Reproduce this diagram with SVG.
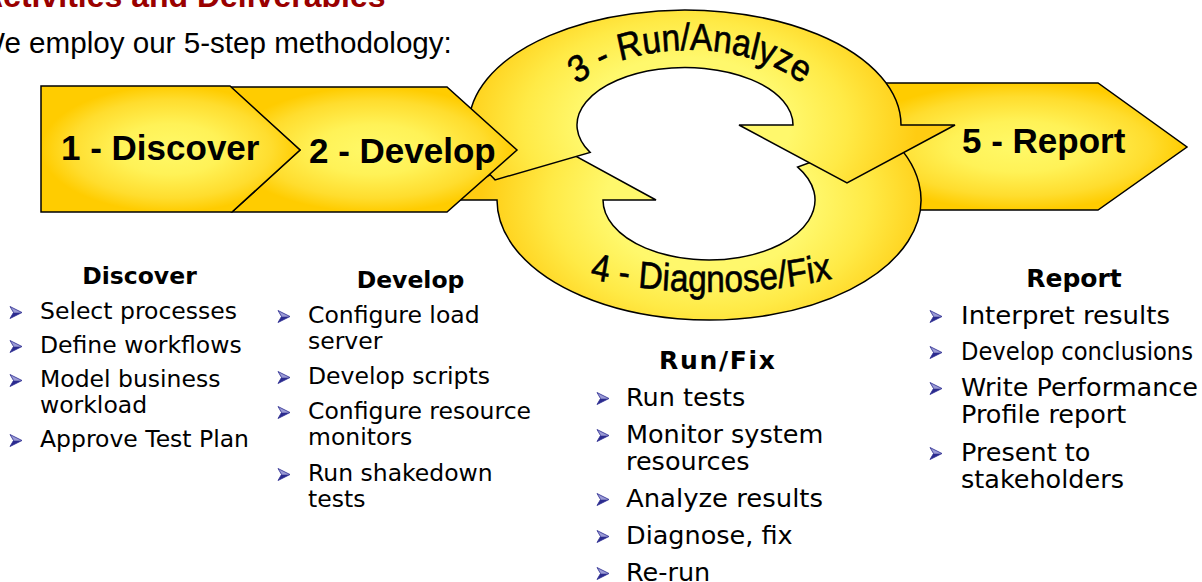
<svg xmlns="http://www.w3.org/2000/svg" xmlns:xlink="http://www.w3.org/1999/xlink" width="1202" height="582" viewBox="0 0 1202 582">
  <style>
    .shape { stroke: #000; stroke-width: 1.5; stroke-linejoin: miter; }
    .chev-text { font-family: "Liberation Sans", Arial, sans-serif; font-weight: bold; font-size: 35px; fill: #000; }
    .ring-text { font-family: "Liberation Sans", Arial, sans-serif; font-weight: normal; font-size: 38px; fill: #000; stroke: #000; stroke-width: 0.6; }
    .title { font-family: "Liberation Sans", Arial, sans-serif; font-weight: bold; font-size: 32px; fill: #990000; }
    .sub { font-family: "Liberation Sans", Arial, sans-serif; font-size: 29.6px; fill: #000; }
    .head { font-family: "DejaVu Sans", Verdana, sans-serif; font-weight: bold; font-size: 23.5px; fill: #000; text-anchor: middle; }
    .head2 { font-family: "DejaVu Sans", Verdana, sans-serif; font-weight: bold; font-size: 25px; fill: #000; text-anchor: middle; }
    .item { font-family: "DejaVu Sans", Verdana, sans-serif; font-size: 23.5px; fill: #000; }
    .item2 { font-family: "DejaVu Sans", Verdana, sans-serif; font-size: 25.5px; fill: #000; }
    .cond { font-family: "DejaVu Sans Condensed", "DejaVu Sans", Tahoma, sans-serif; font-size: 25.5px; fill: #000; }
  </style>
  <defs>
    <radialGradient id="gChev" cx="0.5" cy="0.5" r="0.5">
      <stop offset="0" stop-color="#FFF968"/>
      <stop offset="0.4" stop-color="#FFF257"/>
      <stop offset="0.78" stop-color="#FFDD2E"/>
      <stop offset="1" stop-color="#FFCC00"/>
    </radialGradient>
    <radialGradient id="gTop" gradientUnits="userSpaceOnUse" cx="0" cy="0" r="1" gradientTransform="translate(685 125) scale(232 150)">
      <stop offset="0.45" stop-color="#FFF86C"/>
      <stop offset="0.7" stop-color="#FFEA46"/>
      <stop offset="1" stop-color="#FFCC12"/>
    </radialGradient>
    <radialGradient id="gBot" gradientUnits="userSpaceOnUse" cx="0" cy="0" r="1" gradientTransform="translate(709 200) scale(228 160)">
      <stop offset="0.45" stop-color="#FFF86C"/>
      <stop offset="0.7" stop-color="#FFEA46"/>
      <stop offset="1" stop-color="#FFCC12"/>
    </radialGradient>
    <path id="arcTop" d="M 530.9 135 A 159.1 85 0 0 1 849.1 135" fill="none"/>
    <path id="arcBot" d="M 438.3 195 A 272.7 97 0 0 0 983.7 195" fill="none"/>
    <g id="bul">
      <polygon points="0,0 12,6 3.5,6" fill="#9A9AD6"/>
      <polygon points="3.5,6 12,6 0,12" fill="#2B2B8F"/>
      <polygon points="0,0 12,6 0,12 3.5,6" fill="none" stroke="#2B2B8F" stroke-width="0.8" stroke-linejoin="miter"/>
    </g>
  </defs>

  <rect x="0" y="0" width="1202" height="582" fill="#FFFFFF"/>

  <g id="title">
    <text class="title" x="-20" y="7">Activities and Deliverables</text>
    <text class="sub" x="-23" y="53">We employ our 5-step methodology:</text>
  </g>

  <g id="node-report">
    <polygon class="shape" points="850,83 1098,83 1187,147 1098,210 850,210" fill="url(#gChev)"/>
    <text class="chev-text" x="962" y="153">5 - Report</text>
  </g>

  <g id="node-diagnose-fix">
    <path class="shape" fill="url(#gBot)" d="M 886.4 134.3 A 212 120 0 1 1 497 200 L 444 200 L 550 142 L 656 200 L 603 200 A 106 60 0 1 0 797.7 167.1 Z"/>
    <text class="ring-text" text-anchor="middle" transform="translate(711 0) scale(0.88 1) translate(-711 0)"><textPath xlink:href="#arcBot" href="#arcBot" startOffset="50%">4 - Diagnose/Fix</textPath></text>
  </g>

  <g id="node-run-analyze">
    <path class="shape" fill="url(#gTop)" d="M 495.1 179.9 A 216 115 0 1 1 901 125 L 955 125 L 847 183 L 739 125 L 793 125 A 108 57.5 0 1 0 590.1 152.4 Z"/>
    <text class="ring-text" text-anchor="middle" transform="translate(690 0) scale(0.88 1) translate(-690 0)"><textPath xlink:href="#arcTop" href="#arcTop" startOffset="50%">3 - Run/Analyze</textPath></text>
  </g>

  <g id="node-develop">
    <polygon class="shape" points="230,87 447,87 517,150 447,212 232,212 300,150" fill="url(#gChev)"/>
    <text class="chev-text" x="309" y="163">2 - Develop</text>
  </g>

  <g id="node-discover">
    <polygon class="shape" points="41,86 230,86 300,150 232,212 41,212" fill="url(#gChev)"/>
    <text class="chev-text" x="61" y="160">1 - Discover</text>
  </g>

  <g id="connectors"></g>

  <g id="list-discover">
    <text class="head" x="139.5" y="284">Discover</text>
    <use href="#bul" xlink:href="#bul" x="10" y="306.5"/>
    <text class="item" x="40" y="319">Select processes</text>
    <use href="#bul" xlink:href="#bul" x="10" y="340.5"/>
    <text class="item" x="40" y="353">Define workflows</text>
    <use href="#bul" xlink:href="#bul" x="10" y="374.5"/>
    <text class="item" x="40" y="387">Model business</text>
    <text class="item" x="40" y="413">workload</text>
    <use href="#bul" xlink:href="#bul" x="10" y="434.5"/>
    <text class="item" x="40" y="447">Approve Test Plan</text>
  </g>

  <g id="list-develop">
    <text class="head" x="410.5" y="288">Develop</text>
    <use href="#bul" xlink:href="#bul" x="278" y="310.5"/>
    <text class="item" x="308" y="323">Configure load</text>
    <text class="item" x="308" y="349">server</text>
    <use href="#bul" xlink:href="#bul" x="278" y="371.5"/>
    <text class="item" x="308" y="384">Develop scripts</text>
    <use href="#bul" xlink:href="#bul" x="278" y="406.5"/>
    <text class="item" x="308" y="419">Configure resource</text>
    <text class="item" x="308" y="445">monitors</text>
    <use href="#bul" xlink:href="#bul" x="278" y="468.5"/>
    <text class="item" x="308" y="481">Run shakedown</text>
    <text class="item" x="308" y="507">tests</text>
  </g>

  <g id="list-runfix">
    <text class="head2" x="717" y="369" textLength="116" lengthAdjust="spacing">Run/Fix</text>
    <use href="#bul" xlink:href="#bul" x="597" y="392.5"/>
    <text class="item2" x="626" y="406">Run tests</text>
    <use href="#bul" xlink:href="#bul" x="597" y="429.5"/>
    <text class="item2" x="626" y="443">Monitor system</text>
    <text class="item2" x="626" y="470">resources</text>
    <use href="#bul" xlink:href="#bul" x="597" y="493.5"/>
    <text class="item2" x="626" y="507" textLength="197" lengthAdjust="spacingAndGlyphs">Analyze results</text>
    <use href="#bul" xlink:href="#bul" x="597" y="530.5"/>
    <text class="item2" x="626" y="544">Diagnose, fix</text>
    <use href="#bul" xlink:href="#bul" x="597" y="567.5"/>
    <text class="item2" x="626" y="581">Re-run</text>
  </g>

  <g id="list-report">
    <text class="head2" x="1074" y="287">Report</text>
    <use href="#bul" xlink:href="#bul" x="930" y="310.5"/>
    <text class="item2" x="961" y="324" textLength="209" lengthAdjust="spacingAndGlyphs">Interpret results</text>
    <use href="#bul" xlink:href="#bul" x="930" y="346.5"/>
    <text class="cond" x="961" y="360" textLength="232" lengthAdjust="spacingAndGlyphs">Develop conclusions</text>
    <use href="#bul" xlink:href="#bul" x="930" y="382.5"/>
    <text class="item2" x="961" y="396">Write Performance</text>
    <text class="item2" x="961" y="423">Profile report</text>
    <use href="#bul" xlink:href="#bul" x="930" y="447.5"/>
    <text class="item2" x="961" y="461">Present to</text>
    <text class="item2" x="961" y="488">stakeholders</text>
  </g>
</svg>
